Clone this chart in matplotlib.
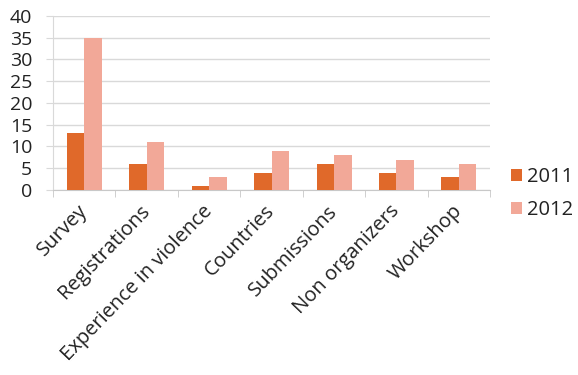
import matplotlib.pyplot as plt
import numpy as np

plt.rcParams['font.family'] = ['Open Sans', 'DejaVu Sans']

categories = ['Survey', 'Registrations', 'Experience in violence', 'Countries',
              'Submissions', 'Non organizers', 'Workshop']
values_2011 = [13, 6, 1, 4, 6, 4, 3]
values_2012 = [35, 11, 3, 9, 8, 7, 6]
series_labels = ['2011', '2012']

fig = plt.figure(figsize=(5.78, 3.75), dpi=100)
ax = fig.add_axes([0.0917, 0.4933, 0.7563, 0.4647])

pos = np.arange(len(categories))
bar_width = 0.28
ax.bar(pos - bar_width / 2, values_2011, width=bar_width, color='#E0692A', label=series_labels[0], zorder=3)
ax.bar(pos + bar_width / 2, values_2012, width=bar_width, color='#F2A898', label=series_labels[1], zorder=3)

ax.set_xlim(-0.5, len(categories) - 0.5)
ax.set_ylim(0, 40)
ax.set_yticks(range(0, 41, 5))
ax.yaxis.grid(True, color='#d9d9d9', linewidth=1, zorder=0)
ax.tick_params(axis='y', length=5, color='#d9d9d9', labelsize=14, pad=10, labelcolor='#222222')

ax.set_xticks(pos)
ax.set_xticklabels(categories, rotation=46, ha='right', va='center', rotation_mode='anchor',
                   fontsize=14.5, color='#222222')
ax.tick_params(axis='x', which='major', length=0, pad=13)
ax.set_xticks(np.arange(-0.5, len(categories), 1), minor=True)
ax.tick_params(axis='x', which='minor', length=5, color='#c8c8c8')

for side in ['top', 'right']:
    ax.spines[side].set_visible(False)
ax.spines['left'].set_color('#d9d9d9')
ax.spines['bottom'].set_color('#c8c8c8')

fig.legend(loc='center left', bbox_to_anchor=(0.884, 0.484), frameon=False, fontsize=14.5,
           handlelength=0.55, handleheight=0.55, handletextpad=0.25, labelspacing=0.65,
           borderpad=0, borderaxespad=0, labelcolor='#222222')

fig.savefig('out.png', dpi=100)
